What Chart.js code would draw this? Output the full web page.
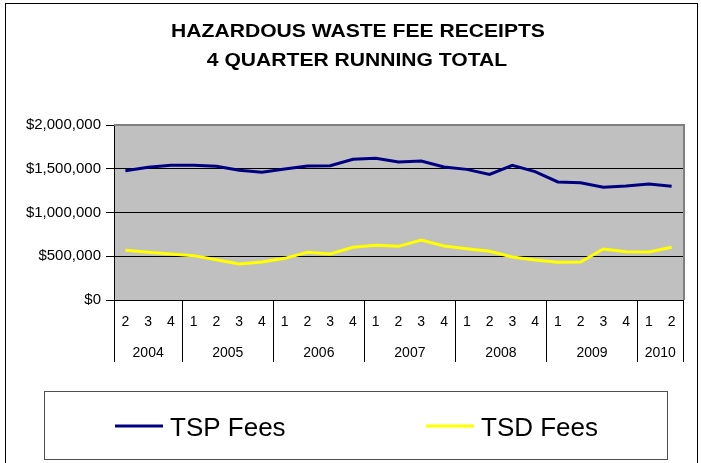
<!DOCTYPE html>
<html>
<head>
<meta charset="utf-8">
<script src="https://cdn.jsdelivr.net/npm/chart.js@4/dist/chart.umd.min.js"></script>
<style>
html,body{margin:0;padding:0;background:#fff;}
#wrap{width:701px;height:463px;position:relative;}
</style>
</head>
<body>
<div id="wrap"><canvas id="c" width="701" height="463"></canvas></div>
<script>
// ---- data ----
const titleLines = ['HAZARDOUS WASTE FEE RECEIPTS', '4 QUARTER RUNNING TOTAL'];
const quarterLabels = ['2','3','4','1','2','3','4','1','2','3','4','1','2','3','4','1','2','3','4','1','2','3','4','1','2'];
const yearLabels = ['2004','2005','2006','2007','2008','2009','2010'];
const quartersPerYear = [3, 4, 4, 4, 4, 4, 2];
const seriesNames = ['TSP Fees', 'TSD Fees'];
const tspFees = [1478000,1516000,1539000,1539000,1528000,1482000,1459000,1497000,1531000,1535000,1608000,1619000,1577000,1589000,1520000,1493000,1436000,1539000,1467000,1349000,1341000,1288000,1303000,1326000,1299000];
const tsdFees = [568000,545000,526000,507000,461000,411000,434000,476000,545000,526000,602000,625000,613000,686000,617000,587000,556000,491000,457000,431000,434000,583000,552000,549000,602000];
const yMin = 0, yMax = 2000000, yStep = 500000;

const FONT = '"Liberation Sans", Arial, Helvetica, sans-serif';

// indices where a new year starts (for separator ticks)
const yearStarts = new Set();
{ let acc = 0; quartersPerYear.forEach(n => { yearStarts.add(acc); acc += n; }); }

const decor = {
  id: 'decor',
  beforeDraw(chart) {
    const { ctx, chartArea: a } = chart;
    ctx.save();
    ctx.fillStyle = '#C0C0C0';
    ctx.fillRect(a.left, a.top, a.right - a.left, a.bottom - a.top);
    ctx.restore();
  },
  afterDraw(chart) {
    const { ctx, chartArea: a } = chart;
    const xs = chart.scales.x;
    ctx.save();
    // plot frame (top & right) in gray
    ctx.strokeStyle = '#808080';
    ctx.lineWidth = 2;
    ctx.beginPath();
    ctx.moveTo(a.left, a.top);
    ctx.lineTo(a.right + 1, a.top);
    ctx.lineTo(a.right + 1, a.bottom);
    ctx.stroke();

    // title (slightly condensed-tall look like the original)
    ctx.fillStyle = '#000';
    ctx.textAlign = 'center';
    ctx.textBaseline = 'alphabetic';
    ctx.font = 'bold 19px ' + FONT;
    [[titleLines[0], 358, 37], [titleLines[1], 357, 66]].forEach(([t, x, y]) => {
      ctx.save();
      ctx.translate(x, y);
      ctx.scale(1.11, 1);
      ctx.fillText(t, 0, 0);
      ctx.restore();
    });

    // year labels (second category row)
    ctx.font = '14px ' + FONT;
    const half = (xs.getPixelForValue(1) - xs.getPixelForValue(0)) / 2;
    let idx = 0;
    yearLabels.forEach((yl, k) => {
      const s = idx, e = idx + quartersPerYear[k] - 1;
      const cx = (xs.getPixelForValue(s) - half + xs.getPixelForValue(e) + half) / 2;
      ctx.fillText(yl, cx, 357);
      idx += quartersPerYear[k];
    });

    // legend
    ctx.strokeStyle = '#505050';
    ctx.lineWidth = 1;
    ctx.strokeRect(44.5, 391.5, 623, 68);
    const itemX = [115, 426];
    ctx.font = '26px ' + FONT;
    ctx.textAlign = 'left';
    chart.data.datasets.forEach((ds, i) => {
      ctx.strokeStyle = ds.borderColor;
      ctx.lineWidth = 3;
      ctx.beginPath();
      ctx.moveTo(itemX[i], 426);
      ctx.lineTo(itemX[i] + 48, 426);
      ctx.stroke();
      ctx.fillStyle = '#000';
      ctx.fillText(ds.label, itemX[i] + 55, 436);
    });

    // outer chart border
    ctx.strokeStyle = '#000';
    ctx.lineWidth = 1;
    ctx.strokeRect(5.5, 3.5, 692, 480);
    ctx.restore();
  }
};

new Chart(document.getElementById('c'), {
  type: 'line',
  data: {
    labels: quarterLabels,
    datasets: [
      { label: seriesNames[0], data: tspFees, borderColor: '#000080', backgroundColor: '#000080', borderWidth: 3, pointRadius: 0, tension: 0, fill: false },
      { label: seriesNames[1], data: tsdFees, borderColor: '#FFFF00', backgroundColor: '#FFFF00', borderWidth: 3, pointRadius: 0, tension: 0, fill: false }
    ]
  },
  options: {
    responsive: false,
    animation: false,
    devicePixelRatio: 1,
    layout: { padding: { left: 14, right: 18, top: 125, bottom: 101 } },
    plugins: { legend: { display: false }, title: { display: false }, tooltip: { enabled: false } },
    scales: {
      x: {
        type: 'category',
        offset: true,
        grid: {
          offset: true,
          drawOnChartArea: false,
          drawTicks: true,
          tickLength: 62,
          tickWidth: 1,
          tickColor: (c) => (c.index === undefined || yearStarts.has(c.index)) ? '#000' : 'rgba(0,0,0,0)'
        },
        border: { display: true, color: '#000', width: 1 },
        ticks: { autoSkip: false, maxRotation: 0, minRotation: 0, padding: -48, color: '#000', font: { family: FONT, size: 14 } },
        afterFit: (s) => { s.height = 62; }
      },
      y: {
        min: yMin, max: yMax,
        ticks: {
          stepSize: yStep, padding: 5, color: '#000', font: { family: FONT, size: 15 },
          callback: (v) => '$' + Number(v).toLocaleString('en-US')
        },
        grid: {
          color: (c) => (c.tick && c.tick.value === yMax) ? 'rgba(0,0,0,0)' : '#000',
          lineWidth: 1,
          drawTicks: true,
          tickLength: 8,
          tickColor: '#000'
        },
        border: { display: true, color: '#000', width: 1 },
        afterFit: (s) => { s.width = 100; }
      }
    }
  },
  plugins: [decor]
});
</script>
</body>
</html>
